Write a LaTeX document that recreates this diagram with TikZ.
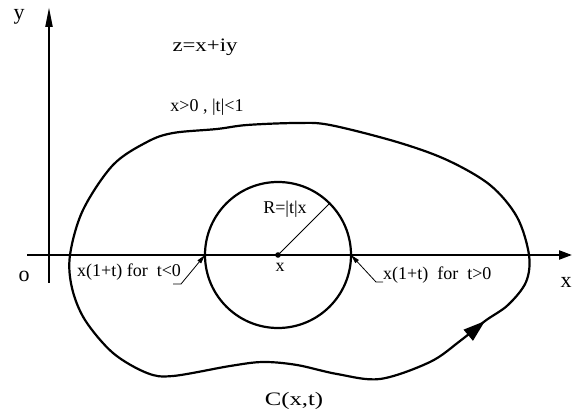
\documentclass[tikz,border=0pt]{standalone}
\usepackage{fontspec}
\setmainfont{Liberation Serif}
\usetikzlibrary{arrows.meta}
\begin{document}
\begin{tikzpicture}[x=1pt,y=-1pt,
  thickln/.style={line width=2.2pt},
  thinln/.style={line width=0.8pt},
  lbl/.style={inner sep=0pt, anchor=base, font=\fontsize{18}{20}\selectfont},
  axlbl/.style={inner sep=0pt, anchor=base, font=\fontsize{22}{24}\selectfont},
  bigtip/.style={-{Triangle[length=20pt,width=7pt]}},
  xtip/.style={-{Triangle[length=13pt,width=9pt]}},
  smalltip/.style={-{Triangle[length=9pt,width=4.5pt]}},
  pathtip/.style={-{Triangle[length=22pt,width=14pt]}}
]
\useasboundingbox (0,0) rectangle (573,419);

% axes
\coordinate (xa) at (27,255);
\coordinate (xb) at (572,255);
\coordinate (ya) at (49,283);
\coordinate (yb) at (49,7);
\draw[thickln, xtip] (xa) -- (xb);
\draw[thickln, bigtip] (ya) -- (yb);

% axis labels
\node[axlbl] (ly) at (19,20) {y};
\node[axlbl] (lo) at (24,282) {o};
\node[axlbl] (lx) at (566,288) {x};

% contour C(x,t)
\draw[thickln] plot[smooth cycle, tension=0.55] coordinates {
  (70,255) (83,210) (113,165) (147,142) (173,133) (217,129) (247,125)
  (297,123) (330,125) (397,142) (447,160) (490,185) (517,217) (529,255)
  (526,282) (508,305) (485,321) (460,341) (430,362) (380,379) (337,374)
  (297,365) (263,362) (230,366) (173,376) (147,373) (113,353) (85,320) (72,288)};
\coordinate (ca) at (468.5,335);
\coordinate (cb) at (485,321);
\draw[thickln, pathtip] (ca) -- (cb);

% inner circle
\coordinate (c) at (278,255);
\draw[thickln] (c) circle[radius=73pt];
\fill (c) circle[radius=2.8pt];
\coordinate (rEnd) at (329.6,203.4);
\draw[thinln] (c) -- (rEnd);

% intersection points and leaders
\coordinate (pL) at (205,255);
\coordinate (pR) at (351,255);
\coordinate (lL1) at (173,284);
\coordinate (lL2) at (181,284);
\coordinate (lR1) at (383,282);
\coordinate (lR2) at (376,282);
\draw[thinln, smalltip] (lL1) -- (lL2) -- (pL);
\draw[thinln, smalltip] (lR1) -- (lR2) -- (pR);

% labels
\node[inner sep=0pt, anchor=base, font=\fontsize{19}{21}\selectfont] (lz) at (205,52) {\scalebox{1.2}[1]{z=x+iy}};
\node[lbl] (lcond) at (207,112) {x>0 , |t|<1};
\node[lbl] (lR) at (285,214) {R=|t|x};
\node[lbl] (lc) at (280,272) {x};
\node[lbl, anchor=base west] (lleft) at (77,277) {x(1+t) for\ \ t<0};
\node[lbl, anchor=base west] (lright) at (383,280) {x(1+t)\ \ for\ \ t>0};
\node[inner sep=0pt, anchor=base, font=\fontsize{19}{21}\selectfont] (lC) at (294,406) {\scalebox{1.3}[1]{C(x,t)}};
\end{tikzpicture}
\end{document}
